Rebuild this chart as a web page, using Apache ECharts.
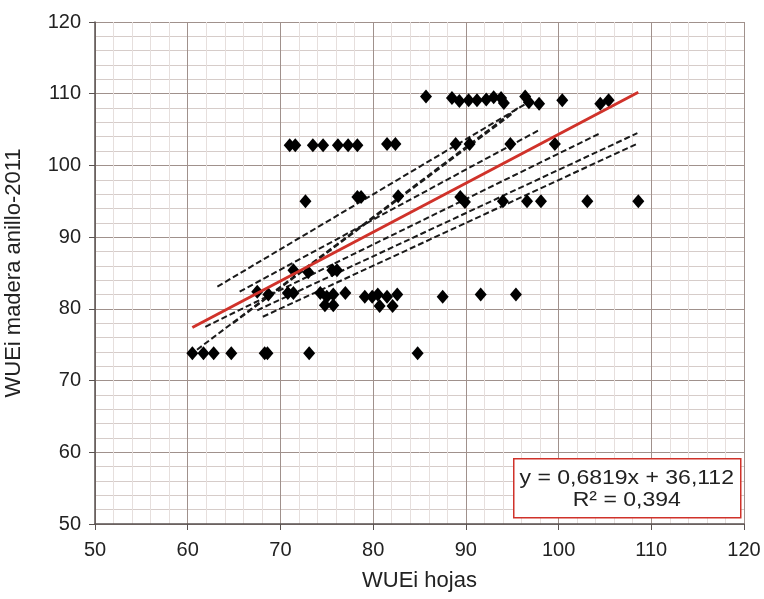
<!DOCTYPE html>
<html>
<head>
<meta charset="utf-8">
<style>
  html, body { margin: 0; padding: 0; background: #fff; }
  #chart { width: 764px; height: 599px; }
</style>
<script src="https://cdn.jsdelivr.net/npm/echarts@6/dist/echarts.min.js"></script>
</head>
<body>
<div id="chart"></div>
<script>
// scatter points [WUEi hojas, WUEi madera]
const points = [
  [85.7, 109.6], [88.5, 109.4], [89.3, 109.0], [90.3, 109.1], [91.2, 109.1],
  [92.2, 109.2], [93.0, 109.5], [93.8, 109.4], [94.1, 108.7], [96.4, 109.6],
  [96.8, 108.8], [97.9, 108.6], [100.4, 109.1], [104.5, 108.6], [105.4, 109.1],
  [71.0, 102.8], [71.6, 102.8], [73.5, 102.8], [74.6, 102.8], [76.2, 102.8],
  [77.3, 102.8], [78.3, 102.8], [81.5, 103.0], [82.4, 103.0], [88.9, 103.0],
  [90.4, 103.0], [94.8, 103.0], [99.6, 103.0],
  [72.7, 95.0], [78.3, 95.6], [78.7, 95.6], [82.7, 95.7], [89.4, 95.6],
  [89.9, 94.9], [94.0, 95.0], [96.6, 95.0], [98.1, 95.0], [103.1, 95.0], [108.6, 95.0],
  [71.4, 85.4], [73.0, 85.1], [75.6, 85.4], [76.1, 85.4],
  [67.5, 82.4], [68.7, 82.0], [70.8, 82.2], [71.4, 82.2], [74.3, 82.2], [75.0, 81.7],
  [75.7, 82.0], [77.0, 82.2], [79.1, 81.7], [79.9, 81.7], [80.5, 82.0], [81.5, 81.7],
  [82.6, 82.0], [87.5, 81.7], [91.6, 82.0], [95.4, 82.0],
  [74.8, 80.5], [75.7, 80.5], [80.7, 80.4], [82.1, 80.4],
  [60.5, 73.8], [61.7, 73.8], [62.8, 73.8], [64.7, 73.8], [68.3, 73.8], [68.6, 73.8],
  [73.1, 73.8], [84.8, 73.8]
];

// dashed trend lines, read as start/end points
const dashedLines = [
  [[63.2, 83.1], [96.6, 108.7]],
  [[65.6, 82.4], [98.0, 105.0]],
  [[61.0, 74.3], [95.6, 108.0]],
  [[64.9, 78.0], [95.1, 107.3]],
  [[61.9, 77.5], [104.5, 104.5]],
  [[67.5, 79.8], [108.5, 104.5]],
  [[68.1, 78.9], [108.6, 103.1]]
];

// overall regression line
const redLine = [[60.5, 77.4], [108.6, 110.2]];

const equationText = ['y = 0,6819x + 36,112', 'R² = 0,394'];

const chart = echarts.init(document.getElementById('chart'));

const font = 'Liberation Sans, Arial, sans-serif';
const majorColor = '#a0918c';

function axisCommon(name, nameGap, labelMargin, minorColor) {
  return {
    type: 'value',
    min: 50,
    max: 120,
    interval: 10,
    name: name,
    nameLocation: 'middle',
    nameGap: nameGap,
    nameTextStyle: { fontFamily: font, fontSize: 22, color: '#222' },
    axisLine: { show: true, lineStyle: { color: '#5a5250', width: 1.5 } },
    axisTick: { show: true, length: 6, lineStyle: { color: '#5a5250' } },
    axisLabel: { fontFamily: font, fontSize: 20, color: '#222', margin: labelMargin },
    splitLine: { show: true, lineStyle: { color: majorColor, width: 1 } },
    minorTick: { show: false, splitNumber: 5 },
    minorSplitLine: { show: true, lineStyle: { color: minorColor, width: 1 } }
  };
}

const series = [];

dashedLines.forEach((seg) => {
  series.push({
    type: 'line',
    data: seg,
    symbol: 'none',
    silent: true,
    lineStyle: { color: '#1a1a1a', width: 2, type: [6, 3] },
    z: 3
  });
});

series.push({
  type: 'scatter',
  data: points,
  symbol: 'diamond',
  symbolSize: [12, 14],
  itemStyle: { color: '#000', opacity: 1 },
  z: 4
});

series.push({
  type: 'line',
  data: redLine,
  symbol: 'none',
  lineStyle: { color: '#d0322a', width: 3 },
  z: 5
});

chart.setOption({
  animation: false,
  backgroundColor: '#fff',
  grid: { left: 95, right: 20, top: 22, bottom: 75, outerBoundsMode: 'none', containLabel: false },
  xAxis: axisCommon('WUEi hojas', 46, 16, '#e6dfdd'),
  yAxis: axisCommon('WUEi madera anillo-2011', 70, 14, '#d6ccc9'),
  series: series,
  graphic: [{
    type: 'group',
    left: 513,
    top: 458,
    z: 100,
    children: [{
      type: 'rect',
      z: 100,
      shape: { x: 0, y: 0, width: 227, height: 59 },
      style: { fill: '#fff', stroke: '#d0322a', lineWidth: 1.5 }
    }, {
      type: 'text',
      z: 101,
      x: 113, y: 20, scaleX: 1.15,
      style: {
        text: equationText[0], align: 'center', verticalAlign: 'middle',
        font: '20px ' + font, fill: '#222'
      }
    }, {
      type: 'text',
      z: 101,
      x: 113, y: 42, scaleX: 1.15,
      style: {
        text: equationText[1], align: 'center', verticalAlign: 'middle',
        font: '20px ' + font, fill: '#222'
      }
    }]
  }]
});
</script>
</body>
</html>
